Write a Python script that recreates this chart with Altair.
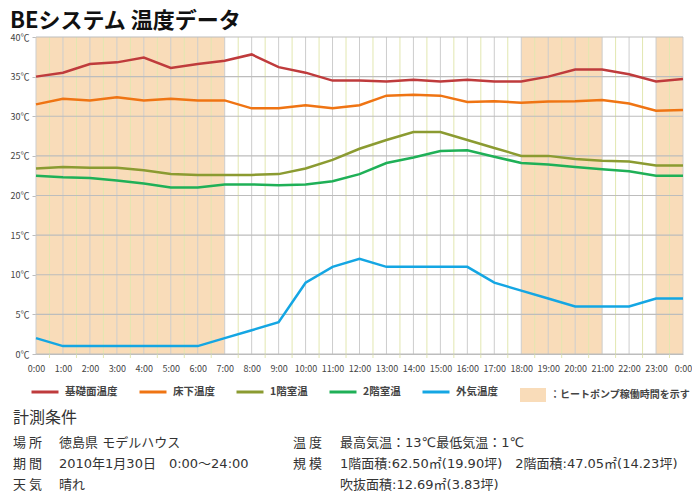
import altair as alt
import pandas as pd

FONT = "Noto Sans CJK JP"
NUM_FONT = "DejaVu Sans, Noto Sans CJK JP"

TITLE = "BEシステム 温度データ"
HOURS = list(range(25))
HALF_HOURS = [h + 0.5 for h in range(24)]
Y_TICKS = [0, 5, 10, 15, 20, 25, 30, 35, 40]

SERIES = ["基礎面温度", "床下温度", "1階室温", "2階室温", "外気温度"]
COLORS = ["#bf3b3c", "#ef7413", "#8b9b31", "#1fb057", "#14a6e3"]

KISO = [35.0, 35.5, 36.6, 36.8, 37.4, 36.1, 36.6, 37.0, 37.8, 36.2, 35.5, 34.5, 34.5,
        34.4, 34.6, 34.4, 34.6, 34.4, 34.4, 35.0, 35.9, 35.9, 35.3, 34.4, 34.7]
YUKASHITA = [31.5, 32.2, 32.0, 32.4, 32.0, 32.2, 32.0, 32.0, 31.0, 31.0, 31.4, 31.0, 31.4,
             32.6, 32.7, 32.6, 31.8, 31.9, 31.7, 31.85, 31.9, 32.05, 31.6, 30.7, 30.8]
F1 = [23.4, 23.6, 23.5, 23.5, 23.2, 22.7, 22.6, 22.6, 22.6, 22.7, 23.4, 24.5, 25.9,
      27.0, 28.0, 28.0, 27.0, 26.0, 25.0, 25.0, 24.6, 24.4, 24.3, 23.8, 23.8]
F2 = [22.5, 22.3, 22.2, 21.9, 21.5, 21.0, 21.0, 21.4, 21.4, 21.3, 21.4, 21.8, 22.7,
      24.1, 24.8, 25.6, 25.7, 24.9, 24.1, 23.9, 23.6, 23.3, 23.05, 22.5, 22.5]
GAIKI = [2, 1, 1, 1, 1, 1, 1, 2, 3, 4, 9, 11, 12, 11, 11, 11, 11, 9, 8, 7, 6, 6, 6, 7, 7]

HP_START = [0, 18, 23]
HP_END = [7, 21, 24]
HP_LABEL = "：ヒートポンプ稼働時間を示す"
HP_COLOR = "#f9dcb9"

NOTE_HEAD = "計測条件"
NOTE_LEFT_LABELS = ["場 所", "期 間", "天 気"]
NOTE_LEFT_VALUES = ["徳島県 モデルハウス", "2010年1月30日　0:00〜24:00", "晴れ"]
NOTE_RIGHT_LABELS = ["温 度", "規 模", ""]
NOTE_RIGHT_VALUES = ["最高気温：13℃最低気温：1℃",
                     "1階面積:62.50㎡(19.90坪)　2階面積:47.05㎡(14.23坪)",
                     "吹抜面積:12.69㎡(3.83坪)"]

W, H = 647, 317

# ---- data tables ----
rows = []
for name, vals in zip(SERIES, [KISO, YUKASHITA, F1, F2, GAIKI]):
    for h, v in zip(HOURS, vals):
        rows.append({"hour": h, "temp": v, "series": name})
lines_df = pd.DataFrame(rows)
hp_df = pd.DataFrame({"start": HP_START, "end": HP_END, "label": [HP_LABEL] * len(HP_START)})
hour_df = pd.DataFrame({"h": HOURS})
half_df = pd.DataFrame({"h": HALF_HOURS})
ygrid_df = pd.DataFrame({"t": Y_TICKS})

xscale = alt.Scale(domain=[0, 24], nice=False, zero=False)
yscale = alt.Scale(domain=[0, 40], nice=False)
X_AXIS = alt.Axis(values=HOURS, labelExpr="(datum.value % 24) + ':00'",
                  labelFlush=False, labelOverlap=False, labelPadding=10,
                  ticks=False, title=None, grid=False)
Y_AXIS = alt.Axis(values=Y_TICKS, labelExpr="datum.value + '℃'",
                  labelPadding=3, title=None, grid=False)

shade = alt.Chart(hp_df).mark_rect().encode(
    x=alt.X("start:Q", scale=xscale, axis=X_AXIS),
    x2="end",
    fill=alt.Fill("label:N", scale=alt.Scale(domain=[HP_LABEL], range=[HP_COLOR]),
                  legend=alt.Legend(title=None, orient="none", legendX=484, legendY=345,
                                    symbolType="M-1,-0.54H1V0.54H-1Z", symbolSize=676,
                                    symbolStrokeWidth=0, labelOffset=4, labelFontSize=10,
                                    labelFontWeight="bold", labelColor="#444",
                                    labelFont=FONT, labelLimit=300)),
)

# half-hour lines run a little below the axis, acting as its tick marks
half_rules = alt.Chart(half_df).mark_rule(color="#e2e7b0", strokeWidth=1).encode(
    x=alt.X("h:Q", scale=xscale, axis=X_AXIS),
    y=alt.value(0), y2=alt.value(H + 4))

hour_rules = alt.Chart(hour_df).mark_rule(color="#cdcdcd", strokeWidth=1).encode(
    x=alt.X("h:Q", scale=xscale, axis=X_AXIS))

y_rules = alt.Chart(ygrid_df).mark_rule(color="#bdbdbd", strokeWidth=1.2).encode(
    y=alt.Y("t:Q", scale=yscale, axis=Y_AXIS))

lines = alt.Chart(lines_df).mark_line(strokeWidth=2.5).encode(
    x=alt.X("hour:Q", scale=xscale, axis=X_AXIS),
    y=alt.Y("temp:Q", scale=yscale, axis=Y_AXIS),
    stroke=alt.Stroke("series:N", sort=SERIES,
                      scale=alt.Scale(domain=SERIES, range=COLORS),
                      legend=alt.Legend(title=None, orient="none", legendX=-6, legendY=340,
                                        direction="horizontal", symbolType="stroke",
                                        symbolSize=729, symbolStrokeWidth=3,
                                        labelOffset=5, labelFontSize=10.5, columnPadding=15,
                                        labelFontWeight="bold", labelColor="#444",
                                        labelFont=FONT)),
)


def note(text, x, y, size=13, font=NUM_FONT):
    return alt.Chart(pd.DataFrame({"t": [text]})).mark_text(
        align="left", baseline="middle", x=x, y=y, fontSize=size, color="#333", font=font
    ).encode(text="t:N")


notes = [note(NOTE_HEAD, -23, 381, 16, FONT)]
row_y = [406, 427, 448]
for i in range(3):
    notes.append(note(NOTE_LEFT_LABELS[i], -23, row_y[i], 13, FONT))
    notes.append(note(NOTE_LEFT_VALUES[i], 23, row_y[i]))
    if NOTE_RIGHT_LABELS[i]:
        notes.append(note(NOTE_RIGHT_LABELS[i], 257, row_y[i], 13, FONT))
    notes.append(note(NOTE_RIGHT_VALUES[i], 304, row_y[i]))

chart = alt.layer(shade, half_rules, hour_rules, y_rules, lines, *notes).properties(
    width=W, height=H,
    autosize=alt.AutoSizeParams(type="none"),
    padding={"left": 28, "top": 29, "right": 9, "bottom": 138},
    title=alt.TitleParams(TITLE, anchor="start", frame="group", font=FONT, fontSize=22,
                          fontWeight="bold", color="#111", dx=-26, offset=0),
).configure_axis(
    domainColor="#bdbdbd", tickColor="#bdbdbd", tickSize=4, labelFontSize=9,
    labelColor="#444", labelFont=FONT,
).configure_view(strokeWidth=0)

chart.save("out.html", embed_options={"renderer": "svg", "actions": False})
